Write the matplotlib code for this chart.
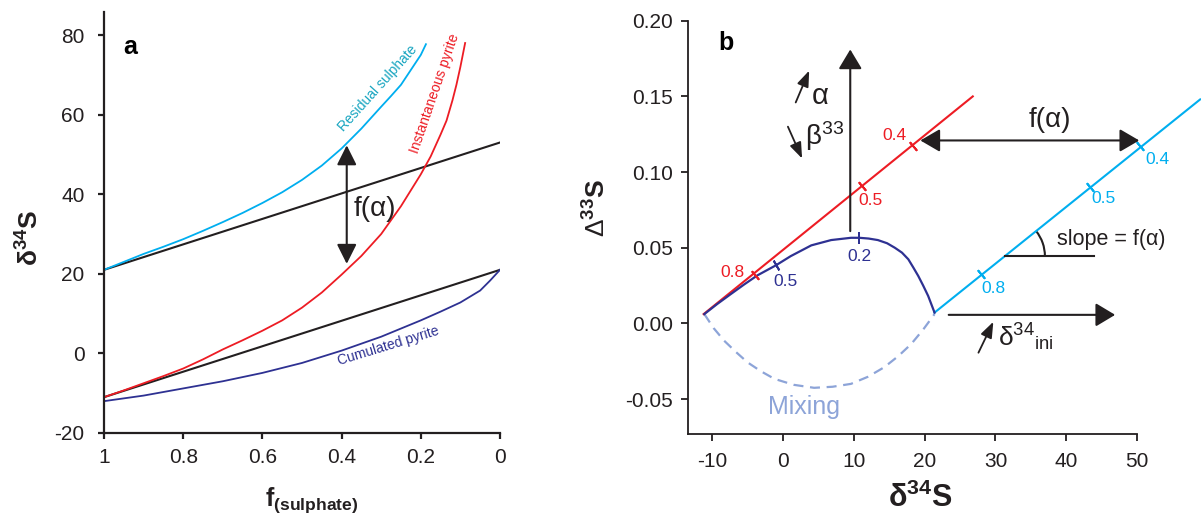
import numpy as np
import matplotlib
matplotlib.use("Agg")
import matplotlib.pyplot as plt
from matplotlib.patches import Arc

plt.rcParams['font.family'] = ['Liberation Sans', 'DejaVu Sans']
plt.rcParams['mathtext.fontset'] = 'custom'
plt.rcParams['mathtext.rm'] = 'Liberation Sans'
plt.rcParams['mathtext.bf'] = 'Liberation Sans:bold'
plt.rcParams['mathtext.it'] = 'Liberation Sans:italic'
plt.rcParams['mathtext.default'] = 'regular'
plt.rcParams['axes.unicode_minus'] = False

# ---- panel a: Rayleigh fractionation vs remaining sulphate fraction ----
sulphate_f = [1.0, 0.95, 0.9, 0.85, 0.8, 0.75, 0.7, 0.65, 0.6, 0.55, 0.5, 0.45, 0.4,
              0.35, 0.3, 0.275, 0.25, 0.22, 0.2, 0.187]
sulphate_d34 = [21, 23, 25, 26.8, 28.7, 30.8, 33, 35.3, 37.8, 40.5, 43.6, 47.2, 51.5,
                56.5, 62, 64.7, 67.5, 72, 75, 77.7]

inst_f = [1.0, 0.95, 0.9, 0.85, 0.8, 0.75, 0.7, 0.65, 0.6, 0.55, 0.5, 0.45, 0.4, 0.35,
          0.3, 0.25, 0.2, 0.175, 0.15, 0.135, 0.12, 0.11, 0.1, 0.088]
inst_d34 = [-11, -9.3, -7.5, -5.7, -3.8, -1.5, 1.0, 3.3, 5.7, 8.3, 11.5, 15.3, 19.8, 24.5,
            30, 37, 45, 49.5, 55, 58.5, 63.6, 67.5, 72, 78]

cum_f = [1.0, 0.9, 0.8, 0.7, 0.6, 0.5, 0.4, 0.3, 0.2, 0.15, 0.1, 0.05, 0.025, 0.0]
cum_d34 = [-12, -10.6, -8.8, -7, -4.9, -2.4, 0.7, 4.2, 8.3, 10.5, 12.8, 15.8, 18.3, 21]

upper_line_f = [1.0, 0.0]
upper_line_d34 = [21, 53]
lower_line_f = [1.0, 0.0]
lower_line_d34 = [-11, 21]

a_xticks = [1, 0.8, 0.6, 0.4, 0.2, 0]
a_xticklabels = ['1', '0.8', '0.6', '0.4', '0.2', '0']
a_yticks = [-20, 0, 20, 40, 60, 80]

# ---- panel b: Delta33S vs delta34S ----
inst_b_x = [-11.2, 26.8]
inst_b_y = [0.0062, 0.150]
inst_b_tick_x = [-4.0, 11.2, 18.3]
inst_b_tick_y = [0.0318, 0.091, 0.117]
inst_b_tick_lab = ['0.8', '0.5', '0.4']

sulph_b_x = [21.4, 58.9]
sulph_b_y = [0.0072, 0.148]
sulph_b_tick_x = [27.9, 43.3, 50.4]
sulph_b_tick_y = [0.0327, 0.090, 0.117]
sulph_b_tick_lab = ['0.8', '0.5', '0.4']

cum_b_x = [-11.1, -9.3, -7.4, -5.5, -3.6, -1.0, 1.1, 4.0, 6.8, 9.6, 10.8, 12.1, 13.4,
           14.7, 15.8, 16.8, 17.7, 18.4, 19.1, 19.8, 20.5, 21.4]
cum_b_y = [0.0062, 0.0128, 0.0193, 0.0257, 0.0318, 0.0384, 0.0445, 0.0516, 0.0551,
           0.0566, 0.0566, 0.0561, 0.0551, 0.053, 0.050, 0.0468, 0.0424, 0.037,
           0.0314, 0.025, 0.0182, 0.0072]
cum_b_tick_x = [-1.0, 10.8]
cum_b_tick_y = [0.0384, 0.0566]
cum_b_tick_lab = ['0.5', '0.2']

mix_x = [-11.1, -9.8, -8.3, -6.6, -5.0, -3.1, -1.2, 1.5, 4.4, 7.0, 9.6, 12.0, 14.3,
         16.3, 18.1, 19.8, 21.4]
mix_y = [0.0062, -0.003, -0.0114, -0.019, -0.0257, -0.0316, -0.0366, -0.0405, -0.0425,
         -0.0418, -0.0399, -0.0352, -0.0289, -0.0215, -0.0136, -0.004, 0.0062]

b_xticks = [-10, 0, 10, 20, 30, 40, 50]
b_yticks = [-0.05, 0.0, 0.05, 0.10, 0.15, 0.20]

CYAN = '#00AEEF'
CYAN_TXT = '#18A5C0'
RED = '#ED1C24'
NAVY = '#2E3192'
LIGHT = '#8DA4D8'
BLACK = '#231F20'


def style_axes(ax, lw, xpad, ypad, tlen):
    for s in ['top', 'right']:
        ax.spines[s].set_visible(False)
    for s in ['left', 'bottom']:
        ax.spines[s].set_linewidth(lw)
        ax.spines[s].set_color(BLACK)
    ax.tick_params(axis='both', direction='out', length=tlen, width=lw,
                   labelsize=15, colors=BLACK)
    ax.tick_params(axis='x', pad=xpad)
    ax.tick_params(axis='y', pad=ypad)


def big_arrow(ax, start, end, style):
    ax.annotate('', xy=end, xytext=start, annotation_clip=False,
                arrowprops=dict(arrowstyle=style, color=BLACK, lw=1.5,
                                shrinkA=0, shrinkB=0, mutation_scale=20))


def small_arrow(ax, start, end):
    ax.annotate('', xy=end, xytext=start, annotation_clip=False,
                arrowprops=dict(arrowstyle='-|>,head_length=0.8,head_width=0.3',
                                color=BLACK, lw=1.3, shrinkA=0, shrinkB=0,
                                mutation_scale=12))


fig = plt.figure(figsize=(12.01, 5.23), dpi=100)

# ================= panel a =================
ax1 = fig.add_axes([0.0866, 0.1721, 0.3297, 0.805])
ax1.plot(upper_line_f, upper_line_d34, color=BLACK, lw=1.5)
ax1.plot(lower_line_f, lower_line_d34, color=BLACK, lw=1.5)
ax1.plot(sulphate_f, sulphate_d34, color=CYAN, lw=1.3)
ax1.plot(inst_f, inst_d34, color=RED, lw=1.3)
ax1.plot(cum_f, cum_d34, color=NAVY, lw=1.3)

ax1.set_xlim(1, 0)
ax1.set_ylim(-20, 85.8)
ax1.set_xticks(a_xticks)
ax1.set_xticklabels(a_xticklabels)
ax1.set_yticks(a_yticks)
style_axes(ax1, 1.6, 6.5, 10, 4)

ax1.text(0.934, 77, 'a', fontsize=18, fontweight='bold', ha='center', va='center')
ax1.text(0.308, 66.6, 'Residual sulphate', color=CYAN_TXT, fontsize=10,
         rotation=48, ha='center', va='center')
ax1.text(0.164, 65.4, 'Instantaneous pyrite', color=RED, fontsize=10,
         rotation=71, ha='center', va='center')
ax1.text(0.283, 1.9, 'Cumulated pyrite', color=NAVY, fontsize=10,
         rotation=17, ha='center', va='center')
big_arrow(ax1, (0.387, 22.5), (0.387, 52.3), '<|-|>,head_length=0.6,head_width=0.3')
ax1.text(0.316, 36.4, 'f(α)', fontsize=20, color=BLACK, ha='center', va='center')

fig.text(0.025, 0.545, r'$\mathbf{δ^{34}S}$', fontsize=19, rotation=90,
         ha='center', va='center', color=BLACK)
fig.text(0.2205, 0.044, r'$\mathbf{f_{(sulphate)}}$', fontsize=18,
         ha='left', va='center', color=BLACK)

# ================= panel b =================
ax2 = fig.add_axes([0.5729, 0.1702, 0.3739, 0.7902])
ax2.set_xlim(-13.4, 50)
ax2.set_ylim(-0.073, 0.20)
ax2.set_xticks(b_xticks)
ax2.set_yticks(b_yticks)
ax2.set_yticklabels(['%.2f' % v for v in b_yticks])
style_axes(ax2, 1.3, 8, 6, 5)

ax2.plot(mix_x, mix_y, color=LIGHT, lw=1.6, dashes=(4.5, 3))
ax2.plot(inst_b_x, inst_b_y, color=RED, lw=1.5, clip_on=False)
ax2.plot(sulph_b_x, sulph_b_y, color=CYAN, lw=1.5, clip_on=False)
ax2.plot(cum_b_x, cum_b_y, color=NAVY, lw=1.6)

# fraction marks along the curves
ax2.plot(inst_b_tick_x, inst_b_tick_y, ls='none', marker=(2, 2, 40), ms=8,
         mew=1.4, color=RED, clip_on=False)
ax2.plot(sulph_b_tick_x, sulph_b_tick_y, ls='none', marker=(2, 2, 40), ms=8,
         mew=1.4, color=CYAN, clip_on=False)
ax2.plot(cum_b_tick_x[:1], cum_b_tick_y[:1], ls='none', marker=(2, 2, 30), ms=8,
         mew=1.4, color=NAVY)
ax2.plot(cum_b_tick_x[1:], cum_b_tick_y[1:], ls='none', marker=(2, 2, 0), ms=8,
         mew=1.4, color=NAVY)

red_lab_off = [(-3.1, 0.0022), (1.1, -0.010), (-2.6, 0.007)]
for x, y, lab, (dx, dy) in zip(inst_b_tick_x, inst_b_tick_y, inst_b_tick_lab, red_lab_off):
    ax2.text(x + dx, y + dy, lab, color=RED, fontsize=12.5, ha='center', va='center')
cyan_lab_off = [(1.8, -0.0099), (2.0, -0.0073), (2.4, -0.0087)]
for x, y, lab, (dx, dy) in zip(sulph_b_tick_x, sulph_b_tick_y, sulph_b_tick_lab, cyan_lab_off):
    ax2.text(x + dx, y + dy, lab, color=CYAN, fontsize=12.5, ha='center', va='center',
             clip_on=False)
navy_lab_off = [(1.4, -0.0105), (0.0, -0.0121)]
for x, y, lab, (dx, dy) in zip(cum_b_tick_x, cum_b_tick_y, cum_b_tick_lab, navy_lab_off):
    ax2.text(x + dx, y + dy, lab, color=NAVY, fontsize=12.5, ha='center', va='center')

ax2.text(3.0, -0.0553, 'Mixing', color=LIGHT, fontsize=18, ha='center', va='center')
ax2.text(-8.1, 0.185, 'b', fontsize=18, fontweight='bold', ha='center', va='center')

# alpha / beta arrow
big_arrow(ax2, (9.5, 0.061), (9.5, 0.181), '-|>,head_length=0.6,head_width=0.36')
small_arrow(ax2, (1.8, 0.146), (3.7, 0.167))
ax2.text(4.0, 0.150, 'α', fontsize=21, color=BLACK, ha='left', va='center')
small_arrow(ax2, (0.7, 0.130), (2.7, 0.109))
ax2.text(3.1, 0.124, r'$β^{33}$', fontsize=20, color=BLACK, ha='left', va='center')

# horizontal offset between pyrite and sulphate lines
big_arrow(ax2, (19.4, 0.1209), (50.3, 0.1209), '<|-|>,head_length=0.6,head_width=0.35')
ax2.text(37.7, 0.1347, 'f(α)', fontsize=20, color=BLACK, ha='center', va='center')

# slope construction on the sulphate line
y_h = 0.0445
x_c = np.interp(y_h, sulph_b_y, sulph_b_x)
ax2.plot([x_c, 43.9], [y_h, y_h], color=BLACK, lw=1.5)
p0 = ax2.transData.transform((0, 0))
p1 = ax2.transData.transform((1, 1))
sx, sy = p1[0] - p0[0], p1[1] - p0[1]
slope = (sulph_b_y[1] - sulph_b_y[0]) / (sulph_b_x[1] - sulph_b_x[0])
r_px = 40
ax2.add_patch(Arc((x_c, y_h), 2 * r_px / sx, 2 * r_px / sy, theta1=0,
                  theta2=np.degrees(np.arctan(slope)), color=BLACK, lw=1.5))
ax2.text(46.3, 0.0557, 'slope = f(α)', fontsize=15.5, color=BLACK,
         ha='center', va='center', clip_on=False)

# initial composition shift
big_arrow(ax2, (23.4, 0.0057), (46.9, 0.0057), '-|>,head_length=0.6,head_width=0.36')
small_arrow(ax2, (27.6, -0.0193), (29.7, 0.0011))
ax2.text(30.3, -0.0094, r'$δ^{34}{}_{ini}$', fontsize=19, color=BLACK,
         ha='left', va='center')

fig.text(0.497, 0.602, r'$Δ^{\mathbf{33}}\mathbf{S}$', fontsize=19, rotation=90,
         ha='center', va='center', color=BLACK)
fig.text(0.766, 0.048, r'$\mathbf{δ^{34}S}$', fontsize=22,
         ha='center', va='center', color=BLACK)

fig.savefig('out.png', dpi=100)
